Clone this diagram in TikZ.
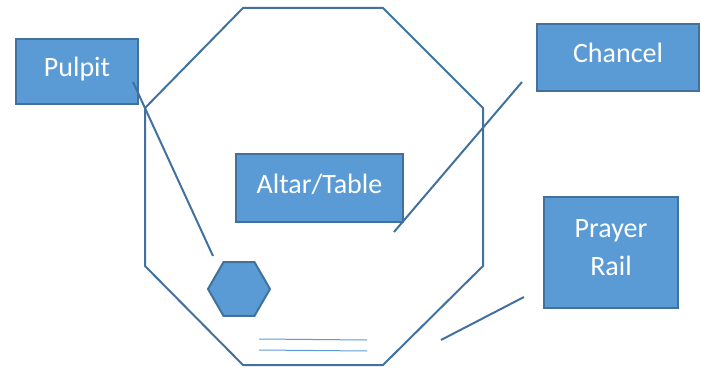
\documentclass[tikz,border=0pt]{standalone}
\usepackage{fontspec}
\setmainfont{Carlito}
\usetikzlibrary{shapes.geometric}
\definecolor{boxfill}{HTML}{5B9BD5}
\definecolor{boxline}{HTML}{41719C}
\begin{document}
\begin{tikzpicture}[x=1pt, y=-1pt,
		labelbox/.style={draw=boxline, line width=1.5pt, fill=boxfill, text=white, align=center, inner sep=0pt, text depth=9pt, font=\fontsize{28}{38}\selectfont},
		pointer/.style={draw=boxline, line width=2pt}]
		\useasboundingbox (0, 0) rectangle (701, 371);
		% the room
		\draw[pointer] (243, 8) -- (383, 8) -- (483, 108) -- (483, 266) -- (383, 365) -- (243, 365) -- (145, 266) -- (145, 108) -- cycle;
		\node[labelbox, minimum width=122pt, minimum height=65pt] (pulpit) at (77, 71.5) {Pulpit};
		\node[labelbox, minimum width=162pt, minimum height=67pt] (chancel) at (618, 57.5) {Chancel};
		\node[labelbox, minimum width=167pt, minimum height=68pt] (altar) at (319.5, 188) {Altar/Table};
		\node[labelbox, minimum width=134pt, minimum height=111pt] (rail) at (611, 252.5) {Prayer\\Rail};
		\node[regular polygon, regular polygon sides=6, minimum size=62pt, inner sep=0pt, draw=boxline, line width=2pt, fill=boxfill] (stand) at (239, 289) {};
		% rail lines
		\draw[boxfill, line width=1pt] (259, 339) -- (367, 340);
		\draw[boxfill, line width=1pt] (259, 350) -- (367, 351);
		% pointers
		\coordinate (pulpit tip) at (133, 82);
		\coordinate (stand tip) at (213, 256);
		\coordinate (chancel tip) at (522, 82);
		\coordinate (altar tip) at (394, 232);
		\coordinate (rail tip) at (524, 297);
		\coordinate (rail end) at (441, 340);
		\draw[pointer] (pulpit tip) -- (stand tip);
		\draw[pointer] (chancel tip) -- (altar tip);
		\draw[pointer] (rail tip) -- (rail end);
	\end{tikzpicture}
\end{document}
